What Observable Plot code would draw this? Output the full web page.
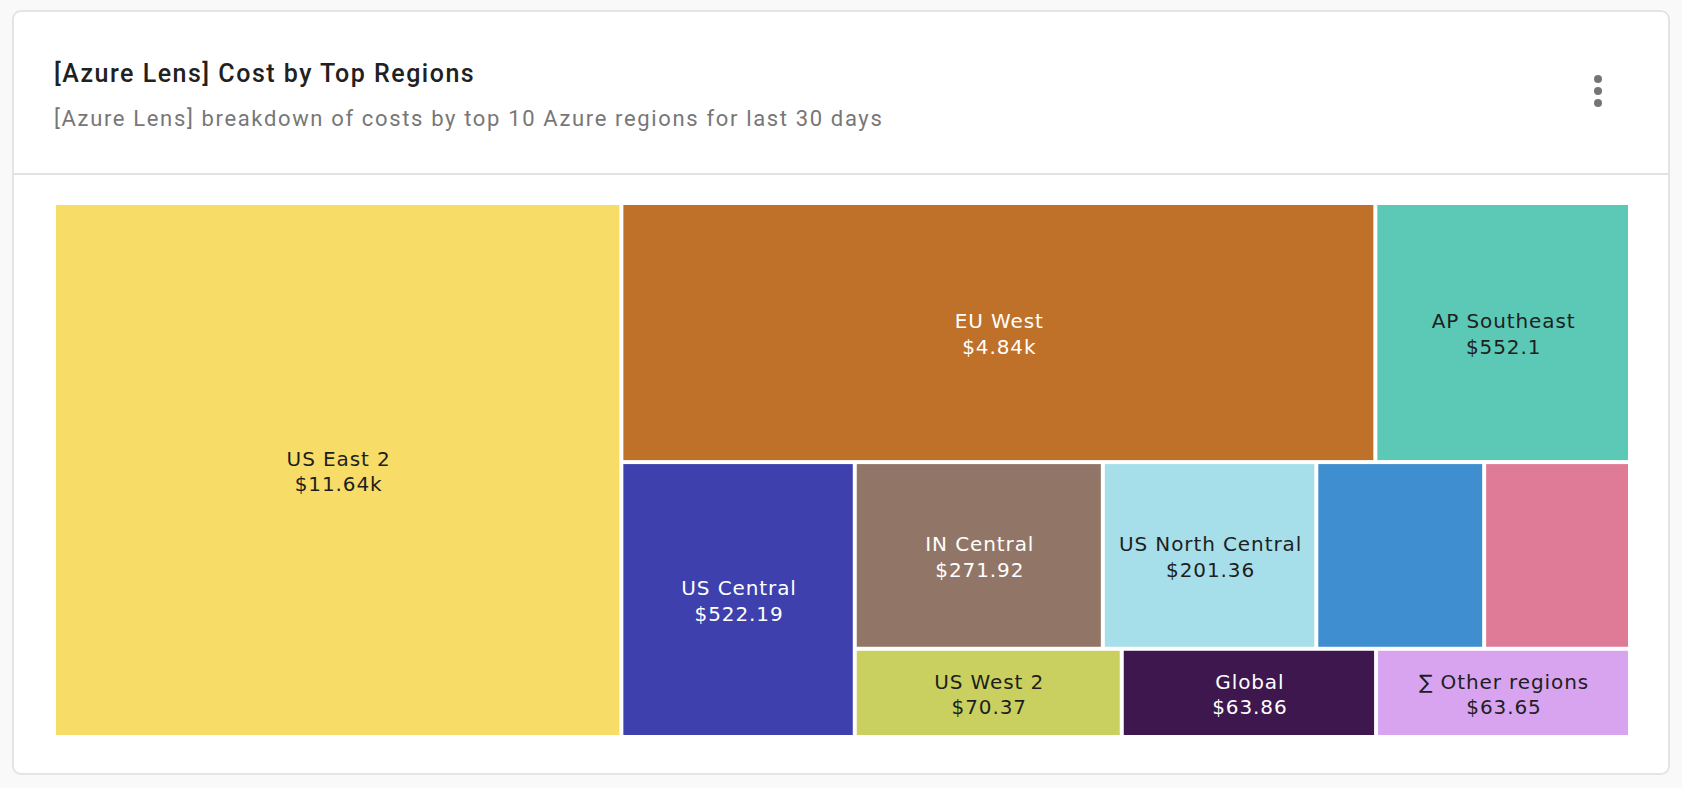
<!DOCTYPE html>
<html>
<head>
<meta charset="utf-8">
<script src="https://cdn.jsdelivr.net/npm/d3@7"></script>
<script src="https://cdn.jsdelivr.net/npm/@observablehq/plot@0.6"></script>
<style>
  html, body { margin: 0; padding: 0; }
  body { width: 1682px; height: 788px; background: #f9f9f9; position: relative; overflow: hidden; font-family: Roboto, "Noto Sans", sans-serif; }
  .card { position: absolute; left: 12px; top: 10px; width: 1658px; height: 765px; box-sizing: border-box; background: #fff; border: 2px solid #e4e4e4; border-radius: 9px; }
  .title { position: absolute; left: 54px; top: 58px; font-size: 25px; font-weight: 500; letter-spacing: 1.5px; color: #212121; line-height: 32px; white-space: nowrap; }
  .subtitle { position: absolute; left: 54px; top: 104px; font-size: 22px; font-weight: 400; letter-spacing: 1.65px; color: #777777; line-height: 30px; white-space: nowrap; }
  .sep { position: absolute; left: 13px; width: 1656px; top: 173px; height: 2px; background: #e2e2e2; }
  .dot { position: absolute; left: 1594px; width: 8px; height: 8px; border-radius: 50%; background: #757575; }
  #chart { position: absolute; left: 54px; top: 203px; }
  #chart svg text { letter-spacing: 0.9px; }
</style>
</head>
<body>
<div class="card"></div>
<div class="title">[Azure Lens] Cost by Top Regions</div>
<div class="subtitle">[Azure Lens] breakdown of costs by top 10 Azure regions for last 30 days</div>
<div class="sep"></div>
<div class="dot" style="top:75px"></div>
<div class="dot" style="top:87px"></div>
<div class="dot" style="top:99px"></div>
<div id="chart"></div>
<script>
// ---- data ----
const regions = ["US East 2", "EU West", "AP Southeast", "US Central", "IN Central", "US North Central", "Canada Central", "Australia East", "US West 2", "Global", "\u2211 Other regions"];
const costs = [11640, 4840, 552.1, 522.19, 271.92, 201.36, 124.5, 94, 70.37, 63.86, 63.65];
const colors = ["#F7DD68", "#BF7129", "#5BC9B5", "#3D40AD", "#917668", "#A6DFE9", "#3F8ECF", "#DF7B96", "#CAD05F", "#3E174E", "#D8A4EF"];

// ---- layout (alternating-direction squarified treemap, area ~ sqrt(cost)) ----
const W = 1576, H = 534;
function squarified(values, W, H) {
  const total = d3.sum(values);
  const rects = [];
  const plot = {x: 0, y: 0};
  const g = {height: H, width: W, direction: 0, total: 0, nW: 0, lW: 0, nH: 0, lH: 0, elArr: [], lP: {}};
  const ar = (w, h) => Math.max(w / h, h / w);
  function addElement(el) {
    g.lP.total = g.elArr[g.elArr.length - 1];
    g.total += el;
    if (g.direction === 0) {
      g.lW = g.nW;
      g.lP.lH = g.lP.total / g.lW;
      g.lP.lR = ar(g.lW, g.lP.lH);
      g.nW = g.total / g.height;
      g.lP.nH = g.lP.total / g.nW;
      g.lP.nR = ar(g.nW, g.lP.nH);
    } else {
      g.lH = g.nH;
      g.lP.lW = g.lP.total / g.lH;
      g.lP.lR = ar(g.lP.lW, g.lH);
      g.nH = g.total / g.width;
      g.lP.nW = g.lP.total / g.nH;
      g.lP.nR = ar(g.lP.nW, g.nH);
    }
    g.elArr.push(el);
  }
  function calc(last) {
    const end = g.elArr.length - 1;
    let gW = g.lW, gH = g.lH, keep;
    if (last) { gW = g.nW; gH = g.nH; } else keep = g.elArr[end];
    g.elArr.forEach((p, i) => {
      if (last || i < end) {
        let w, h;
        if (g.direction === 0) { w = gW; h = p / w; } else { h = gH; w = p / h; }
        rects.push({x0: plot.x, y0: plot.y, x1: plot.x + w, y1: plot.y + h});
        if (g.direction === 0) plot.y += h; else plot.x += w;
      }
    });
    g.nW = 0; g.lW = 0; g.elArr = []; g.total = 0;
    if (g.direction === 0) g.width -= gW; else g.height -= gH;
    plot.y = H - g.height;
    plot.x = W - g.width;
    g.direction = 1 - g.direction;
    if (!last) addElement(keep);
  }
  values.forEach((v, i) => {
    addElement(W * H * v / total);
    if (g.lP.nR > g.lP.lR) calc(false);
    if (i === values.length - 1) calc(true);
  });
  return rects;
}

const sizes = costs.map(Math.sqrt);
const rects = squarified(sizes, W, H);
const fmt = v => v >= 1000 ? "$" + (+(v / 1000).toFixed(2)) + "k" : "$" + (+v.toFixed(2));

const FONT = "DejaVu Sans";
const FS = 20;
const LS = 0.9;
const ctx = document.createElement("canvas").getContext("2d");
ctx.font = `${FS}px "${FONT}"`;
const textWidth = s => ctx.measureText(s).width + LS * s.length;

const cells = regions.map((name, i) => {
  const r = rects[i];
  const L = d3.lab(colors[i]).l;
  const value = fmt(costs[i]);
  const tw = Math.max(textWidth(name), textWidth(value));
  const fits = tw <= (r.x1 - r.x0) - 16 && (r.y1 - r.y0) >= 2.6 * FS;
  return {name, cost: costs[i], color: colors[i], ...r, label: name + "\n" + value, fits, textColor: L > 60 ? "#1e1e1e" : "#ffffff"};
});

const chart = Plot.plot({
  width: W,
  height: H,
  margin: 0,
  x: {type: "linear", domain: [0, W], range: [0, W], axis: null},
  y: {type: "linear", domain: [0, H], range: [0, H], axis: null},
  style: {fontFamily: FONT, background: "transparent"},
  marks: [
    Plot.rect(cells, {x1: "x0", x2: "x1", y1: "y0", y2: "y1", fill: "color", inset: 2, title: d => `${d.name}: ${fmt(d.cost)}`}),
    Plot.text(cells.filter(d => d.fits), {
      x: d => (d.x0 + d.x1) / 2,
      y: d => (d.y0 + d.y1) / 2,
      dx: LS / 2,
      text: "label",
      fill: "textColor",
      fontSize: FS,
      lineHeight: 1.28,
      textAnchor: "middle"
    })
  ]
});
document.getElementById("chart").appendChild(chart);
</script>
</body>
</html>
